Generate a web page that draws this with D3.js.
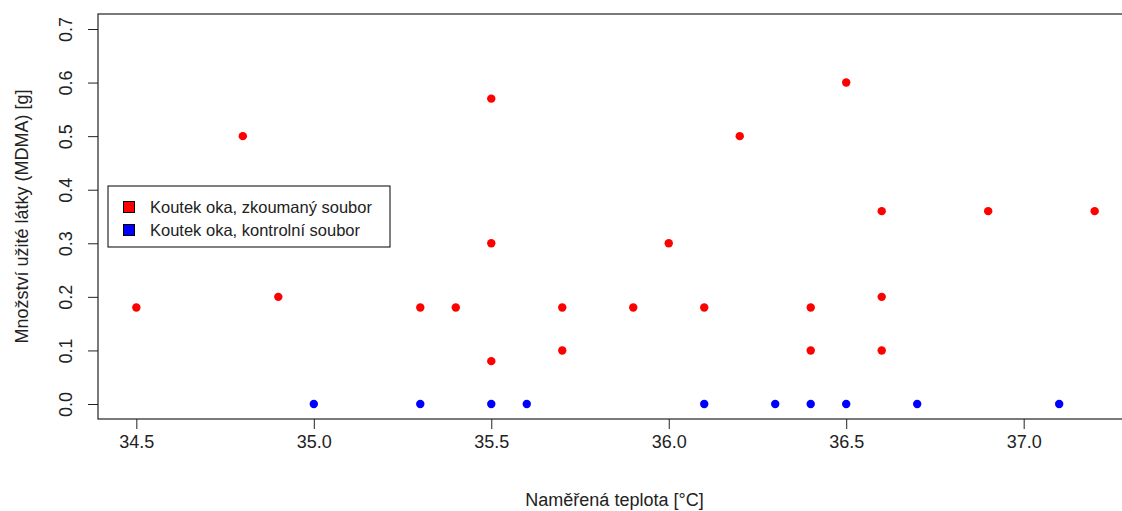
<!DOCTYPE html>
<html>
<head>
<meta charset="utf-8">
<script src="https://cdn.jsdelivr.net/npm/d3@7"></script>
<style>
  body { margin: 0; background: #fff; }
  svg { display: block; font-family: "Liberation Sans", Arial, sans-serif; }
</style>
</head>
<body>
<div id="chart"></div>
<script>
// skupiny dat
var seriesNames = ["Koutek oka, zkoumaný soubor", "Koutek oka, kontrolní soubor"];
var seriesColors = ["#ff0000", "#0000ff"];

// zkoumany soubor
var tempStudy = [34.5, 34.8, 34.9, 35.3, 35.4, 35.5, 35.5, 35.5, 35.7, 35.7, 35.9, 36.0, 36.1, 36.2, 36.4, 36.4, 36.5, 36.6, 36.6, 36.6, 36.9, 37.2];
var doseStudy = [0.18, 0.5, 0.2, 0.18, 0.18, 0.57, 0.3, 0.08, 0.18, 0.1, 0.18, 0.3, 0.18, 0.5, 0.18, 0.1, 0.6, 0.36, 0.2, 0.1, 0.36, 0.36];

// kontrolni soubor
var tempControl = [35.0, 35.3, 35.5, 35.6, 36.1, 36.3, 36.4, 36.5, 36.7, 37.1];
var doseControl = [0, 0, 0, 0, 0, 0, 0, 0, 0, 0];

var xTicks = [34.5, 35.0, 35.5, 36.0, 36.5, 37.0];
var yTicks = [0.0, 0.1, 0.2, 0.3, 0.4, 0.5, 0.6, 0.7];

var width = 1122,
    height = 511,
    margin = {top: 14, left: 98, bottom: 92};

var svg = d3.select("#chart")
  .append("svg")
  .attr("width", width)
  .attr("height", height);

// R style: range extended by 4 % on each side
var xr = [d3.min(tempStudy.concat(tempControl)), d3.max(tempStudy.concat(tempControl))];
var xPad = (xr[1] - xr[0]) * 0.04;
var yr = [0, 0.7];
var yPad = (yr[1] - yr[0]) * 0.04;

var x = d3.scaleLinear()
  .domain([xr[0] - xPad, xr[1] + xPad])
  .range([margin.left, 1133]);

var y = d3.scaleLinear()
  .domain([yr[0] - yPad, yr[1] + yPad])
  .range([height - margin.bottom, margin.top]);

// x axis
var xAxis = svg.append("g")
  .attr("transform", "translate(0," + y.range()[0] + ")")
  .call(d3.axisBottom(x).tickValues(xTicks).tickFormat(d3.format(".1f")).tickSize(10).tickSizeOuter(0).tickPadding(6));
xAxis.select(".domain").remove();
xAxis.selectAll("line").attr("stroke", "#222");
xAxis.selectAll("text")
  .attr("font-size", "18px")
  .attr("fill", "#222")
  .attr("font-family", "Liberation Sans, Arial, sans-serif");

// y axis
var yAxis = svg.append("g")
  .attr("transform", "translate(" + margin.left + ",0)")
  .call(d3.axisLeft(y).tickValues(yTicks).tickFormat(d3.format(".1f")).tickSize(10).tickSizeOuter(0));
yAxis.select(".domain").remove();
yAxis.selectAll("line").attr("stroke", "#222");
yAxis.selectAll("text")
  .attr("x", null).attr("dy", null)
  .attr("transform", "translate(-26,0) rotate(-90)")
  .attr("text-anchor", "middle")
  .attr("font-size", "18px")
  .attr("fill", "#222")
  .attr("font-family", "Liberation Sans, Arial, sans-serif");

// box
svg.append("rect")
  .attr("x", x.range()[0])
  .attr("y", y.range()[1])
  .attr("width", x.range()[1] - x.range()[0])
  .attr("height", y.range()[0] - y.range()[1])
  .attr("fill", "none")
  .attr("stroke", "#222")
  .attr("stroke-width", 1.2);

// axis titles
svg.append("text")
  .attr("x", (margin.left + x.range()[1]) / 2 - 1)
  .attr("y", 506)
  .attr("text-anchor", "middle")
  .attr("font-size", "18px")
  .attr("fill", "#222")
  .text("Naměřená teplota [°C]");

svg.append("text")
  .attr("transform", "translate(28," + ((y.range()[0] + y.range()[1]) / 2) + ") rotate(-90)")
  .attr("text-anchor", "middle")
  .attr("font-size", "18px")
  .attr("fill", "#222")
  .text("Množství užité látky (MDMA) [g]");

// points
var groups = [
  {t: tempStudy, d: doseStudy, color: seriesColors[0]},
  {t: tempControl, d: doseControl, color: seriesColors[1]}
];

groups.forEach(function(g) {
  svg.append("g")
    .selectAll("circle")
    .data(g.t)
    .enter()
    .append("circle")
    .attr("cx", function(d) { return x(d); })
    .attr("cy", function(d, i) { return y(g.d[i]); })
    .attr("r", 4.2)
    .attr("fill", g.color);
});

// legend
var legend = svg.append("g").attr("transform", "translate(108,186)");
legend.append("rect")
  .attr("width", 282)
  .attr("height", 61)
  .attr("fill", "#fff")
  .attr("stroke", "#000")
  .attr("stroke-width", 1);

var items = legend.selectAll(".item")
  .data(seriesNames)
  .enter()
  .append("g")
  .attr("class", "item")
  .attr("transform", function(d, i) { return "translate(0," + (21 + i * 23) + ")"; });

items.append("rect")
  .attr("x", 15.5)
  .attr("y", -5.5)
  .attr("width", 11)
  .attr("height", 11)
  .attr("fill", function(d, i) { return seriesColors[i]; })
  .attr("stroke", "#000")
  .attr("stroke-width", 1);

items.append("text")
  .attr("x", 42)
  .attr("y", 6)
  .attr("font-size", "16.5px")
  .attr("fill", "#222")
  .text(function(d) { return d; });
</script>
</body>
</html>
